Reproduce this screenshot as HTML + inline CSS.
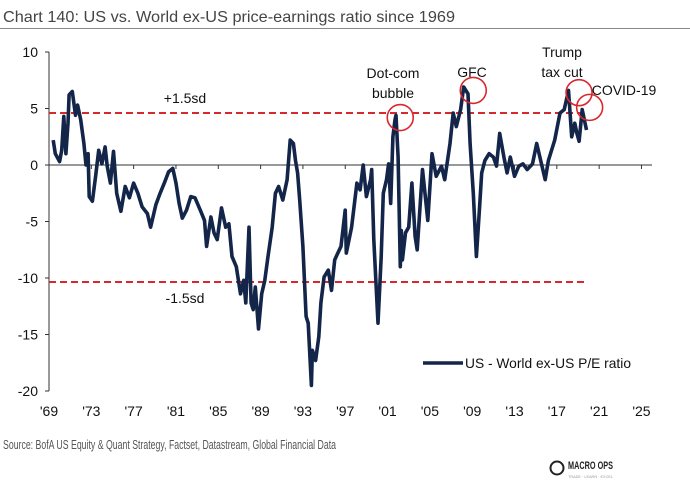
<!DOCTYPE html>
<html><head><meta charset="utf-8">
<style>
html,body{margin:0;padding:0;background:#fff;}
svg{display:block;font-family:"Liberation Sans",sans-serif;}
</style></head>
<body>
<svg id="chart" width="690" height="486" viewBox="0 0 690 486" xmlns="http://www.w3.org/2000/svg">
<text x="3" y="22" font-size="16" fill="#444" textLength="452" lengthAdjust="spacingAndGlyphs">Chart 140: US vs. World ex-US price-earnings ratio since 1969</text>
<line x1="0" y1="28.5" x2="690" y2="28.5" stroke="#888" stroke-width="1"/>
<g id="axes"></g>
<g id="refs"></g>
<path id="series" fill="none" stroke="#14254a" stroke-width="3.6" stroke-linejoin="round"/>
<g id="annos"></g>
<g>
<line x1="423" y1="363" x2="463" y2="363" stroke="#14254a" stroke-width="3.6"/>
<text x="465" y="368" font-size="14" fill="#111" textLength="166" lengthAdjust="spacingAndGlyphs">US - World ex-US P/E ratio</text>
</g>
<text x="3" y="449" font-size="13" fill="#555" textLength="333" lengthAdjust="spacingAndGlyphs">Source: BofA US Equity &amp; Quant Strategy, Factset, Datastream, Global Financial Data</text>
<g>
<circle cx="557" cy="468" r="6.5" fill="none" stroke="#222" stroke-width="2"/>
<text x="568" y="469" font-size="11" font-weight="bold" fill="#222" textLength="45" lengthAdjust="spacingAndGlyphs">MACRO OPS</text>
<text x="568" y="478" font-size="4" fill="#999" textLength="45" lengthAdjust="spacingAndGlyphs">TRADE · LEARN · EXCEL</text>
</g>
</svg>
<script>
const years=[1969.4,1969.6,1970.0,1970.2,1970.4,1970.6,1970.8,1970.9,1971.2,1971.5,1971.7,1972.0,1972.3,1972.5,1972.7,1972.8,1973.1,1973.4,1973.7,1974.0,1974.3,1974.5,1974.8,1975.1,1975.4,1975.8,1976.2,1976.6,1977.0,1977.4,1977.8,1978.3,1978.6,1979.1,1979.5,1979.9,1980.3,1980.7,1981.0,1981.3,1981.6,1982.0,1982.4,1982.8,1983.3,1983.7,1983.9,1984.3,1984.6,1984.9,1985.3,1985.7,1986.0,1986.3,1986.7,1987.1,1987.4,1987.6,1987.9,1988.1,1988.3,1988.5,1988.8,1989.1,1989.4,1989.7,1990.1,1990.4,1990.7,1991.1,1991.5,1991.8,1992.1,1992.3,1992.5,1992.7,1993.0,1993.3,1993.5,1993.8,1993.9,1994.2,1994.5,1994.7,1995.0,1995.4,1995.7,1996.0,1996.3,1996.6,1997.0,1997.1,1997.6,1998.1,1998.4,1998.7,1999.0,1999.4,1999.5,1999.7,2000.1,2000.4,2000.6,2000.9,2001.1,2001.3,2001.5,2001.7,2001.8,2002.0,2002.2,2002.3,2002.4,2002.7,2003.0,2003.3,2003.6,2003.8,2004.3,2004.8,2005.2,2005.6,2006.1,2006.4,2006.9,2007.2,2007.5,2007.9,2008.2,2008.6,2008.8,2009.1,2009.4,2009.7,2009.9,2010.2,2010.6,2011.0,2011.3,2011.6,2012.0,2012.3,2012.6,2013.0,2013.4,2013.8,2014.2,2014.7,2015.1,2015.6,2015.9,2016.2,2016.8,2017.3,2017.7,2018.1,2018.4,2018.7,2018.9,2019.1,2019.4,2019.8,2020.0,2020.2];
const values=[2.2,1.0,0.3,1.3,4.3,1.0,3.7,6.2,6.5,4.4,5.3,4.0,1.9,0,1.0,-2.8,-3.2,-1.0,1.3,0.1,1.6,-0.1,-1.6,1.2,-2.5,-4.1,-1.9,-2.9,-1.6,-2.5,-3.7,-4.3,-5.5,-3.5,-2.5,-1.6,-0.6,-0.3,-1.6,-3.4,-4.7,-4.0,-2.8,-2.9,-4.0,-4.9,-7.2,-4.6,-6.0,-6.6,-3.8,-5.5,-5.2,-8.1,-9.0,-11.4,-10.2,-12.2,-5.5,-12.2,-12.8,-10.8,-14.5,-11.4,-10.2,-8.1,-5.5,-2.5,-1.9,-3.1,-1.3,2.2,1.9,0.4,-0.7,-3.1,-7.2,-13.4,-14.0,-19.5,-16.4,-17.3,-15.2,-12.2,-9.9,-9.3,-11.1,-8.4,-7.8,-7.2,-4.0,-7.8,-5.5,-1.6,-2.2,0,-2.8,-1.3,-0.4,-6.6,-14.0,-8.1,-2.5,-1.3,0.1,-3.4,2.5,4.0,4.4,0.7,-9.0,-5.8,-8.4,-6.0,-5.5,-1.6,-6.3,-7.5,-0.4,-4.9,1.0,-1.0,-0.1,-1.3,1.9,4.6,3.4,4.9,6.9,6.3,1.9,-2.5,-8.1,-3.7,-0.7,0.4,1.0,0.7,-0.1,2.8,0.7,-0.7,0.7,-1.0,-0.1,0.1,-0.4,0.1,1.9,-0.1,-1.3,0.4,2.2,4.6,4.9,6.6,2.5,3.7,2.8,2.1,4.9,3.1];
const yTicks=[10,5,0,-5,-10,-15,-20];
const xTickYears=[1969,1973,1977,1981,1985,1989,1993,1997,2001,2005,2009,2013,2017,2021,2025];
const xTickLabels=["'69","'73","'77","'81","'85","'89","'93","'97","'01","'05","'09","'13","'17","'21","'25"];
const sdLevels=[4.6,-10.35];
const sdLabels=["+1.5sd","-1.5sd"];
const annoLabels=[["Dot-com","bubble"],["GFC"],["Trump","tax cut"],["COVID-19"]];
const annoYears=[2002.2,2009.1,2019.1,2020.1];
const annoValues=[4.2,6.6,6.4,5.1];

const NS="http://www.w3.org/2000/svg";
const X=y=>49+(y-1969)*10.58;
const Y=v=>165-v*11.3;
function mk(tag,attrs,parent,txt){const e=document.createElementNS(NS,tag);for(const k in attrs)e.setAttribute(k,attrs[k]);if(txt!=null)e.textContent=txt;parent.appendChild(e);return e;}
const axes=document.getElementById('axes');
let el=mk('line',{x1:49,y1:Y(10),x2:49,y2:Y(-20),stroke:'#333','stroke-width':1},axes);


yTicks.forEach(t=>{
  let tk=mk('line',{x1:45,y1:Y(t),x2:49,y2:Y(t),stroke:'#333'},axes);
  
  
  let lb=mk('text',{x:38,y:Y(t)+5,'font-size':14,'text-anchor':'end',fill:'#111'},axes,String(t));
  
  
});
el=mk('line',{x1:49,y1:Y(0),x2:652,y2:Y(0),stroke:'#333','stroke-width':1},axes);


xTickYears.forEach((yr,i)=>{
  let tk=mk('line',{x1:X(yr),y1:Y(0),x2:X(yr),y2:Y(0)+4,stroke:'#333'},axes);
  
  
  let lb=mk('text',{x:X(yr),y:416,'font-size':14,'text-anchor':'middle',fill:'#111'},axes,xTickLabels[i]);
  
  
});
const refs=document.getElementById('refs');
sdLevels.forEach((v,i)=>{
  let l=mk('line',{x1:49,y1:Y(v),x2:588,y2:Y(v),stroke:'#d9282d','stroke-width':2,'stroke-dasharray':'7,4'},refs);
  
  
  let t=mk('text',{x:185,y:Y(v)+(i==0?-10:21),'font-size':14,'text-anchor':'middle',fill:'#111'},refs,sdLabels[i]);
  
  
});
let d='';
years.forEach((yr,i)=>{d+=(i?'L':'M')+X(yr).toFixed(1)+','+Y(values[i]).toFixed(1);});
document.getElementById('series').setAttribute('d',d);
const annos=document.getElementById('annos');
const labelPos=[[393,78],[472,77],[562,57],[624,95]];
annoYears.forEach((yr,i)=>{
  let c=mk('circle',{cx:X(yr),cy:Y(annoValues[i]),r:13,fill:'none',stroke:'#d9282d','stroke-width':1.6},annos);
  
  
  const p=labelPos[i];
  annoLabels[i].forEach((s,j)=>{
    let t=mk('text',{x:p[0],y:p[1]+j*20,'font-size':14,'text-anchor':'middle',fill:'#111'},annos,s);
    
    
  });
});
</script>
</body></html>
